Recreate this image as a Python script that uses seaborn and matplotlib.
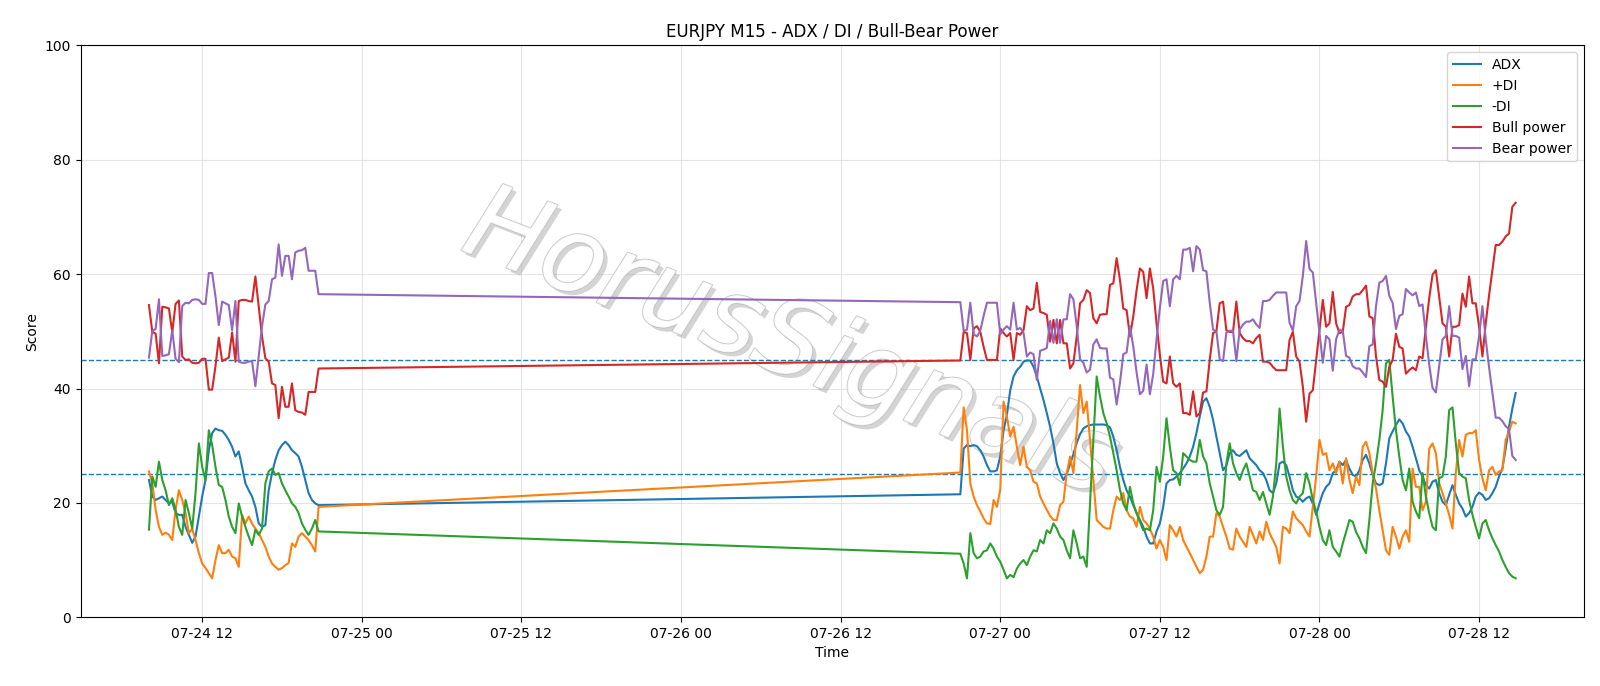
import matplotlib
matplotlib.use("Agg")
import matplotlib.pyplot as plt
import matplotlib.dates as mdates
import matplotlib.patheffects as pe
import numpy as np
import pandas as pd
import seaborn as sns

# ---- timestamps (M15 bars, two trading sessions around the weekend) ----
seg1_start = "2020-07-24 08:00"
seg1_n = 52
seg2_start = "2020-07-26 21:00"
seg2_n = 168

# ---- series values ----
adx_1 = [24.0, 21.1, 20.5, 20.8, 21.1, 20.5, 19.9, 20.2, 18.2, 17.9, 17.9, 15.8, 14.4, 13.0, 14.1, 17.6,
         21.1, 24.0, 29.2, 32.2, 33.0, 32.7, 32.6, 31.9, 31.0, 29.8, 28.1, 29.0, 26.3, 23.4, 22.2, 21.1,
         19.3, 16.4, 15.8, 16.1, 22.2, 25.2, 27.5, 29.2, 30.1, 30.7, 30.1, 29.2, 28.7, 28.1, 26.3, 24.0,
         21.7, 20.5, 19.9, 19.6]
adx_2 = [21.5, 29.5, 30.1, 29.9, 30.1, 29.9, 29.2, 28.1, 26.6, 25.5, 25.5, 25.7, 28.1, 32.7, 35.4, 39.7,
         42.1, 43.2, 43.8, 44.7, 44.9, 44.9, 43.8, 42.1, 40.0, 38.0, 35.7, 33.3, 30.4, 26.9, 25.2, 24.0,
         25.0, 26.8, 28.5, 30.5, 32.0,
         33.0, 33.4, 33.6, 33.7, 33.7, 33.7, 33.7, 33.6, 33.2, 31.6, 29.2, 26.3, 24.0, 22.2, 21.1, 19.6,
         18.2, 17.0, 15.8, 14.1, 12.9, 12.9, 15.0, 16.4, 19.3, 23.4, 24.0, 24.1, 24.6, 25.2, 26.0, 26.9,
         28.1, 29.8, 32.2, 35.1, 37.7, 38.3, 36.8, 34.5, 31.6, 28.7, 25.7, 26.5, 28.7,
         29.2, 28.4, 28.2, 28.7, 29.2, 27.8, 27.2, 26.6, 25.7, 25.2, 24.0, 22.2, 21.7, 23.4, 26.9, 27.2,
         26.6, 24.6, 22.2, 21.1, 20.8, 20.2, 20.8, 21.1, 19.9, 17.9, 19.9, 21.7, 22.8, 23.4, 25.2, 25.7,
         27.2, 26.6, 27.5, 26.0, 24.9, 24.6, 25.7, 27.5, 28.4, 26.9, 24.9, 23.4, 23.1,
         23.4, 26.9, 31.3, 32.5, 33.6, 34.6, 33.9, 32.5, 31.6, 29.8, 27.8, 25.7, 24.6, 23.1, 22.5, 23.7,
         24.0, 21.7, 20.2, 19.6, 21.4, 23.1, 21.4, 19.9, 19.0, 17.6, 18.2, 19.3, 21.1, 21.8, 21.4, 20.5,
         20.8, 21.7, 22.8, 24.6, 26.0, 29.5, 33.3, 36.5, 39.2]

plus_di_1 = [25.5, 23.4, 18.8, 15.8, 14.4, 14.8, 14.4, 13.5, 18.8, 22.2, 20.5, 18.2, 14.7, 15.5, 13.5, 11.2,
             9.4, 8.6, 7.7, 6.8, 10.0, 12.6, 11.2, 11.2, 11.8, 10.6, 10.3, 8.8, 17.9, 16.4, 17.6, 16.4,
             15.5, 14.7, 13.5, 12.3, 10.6, 9.4, 8.8, 8.3, 8.6, 9.1, 9.5, 12.9, 12.3, 14.1, 14.7, 14.1,
             13.5, 12.6, 11.5, 19.3]
plus_di_2 = [25.3, 36.7, 32.7, 23.4, 21.1, 19.6, 18.5, 17.3, 16.4, 16.3, 20.5, 19.3, 22.3, 37.7, 35.1, 31.6,
             33.3, 29.8, 26.6, 29.8, 26.3, 25.7, 23.7, 23.4, 21.1, 19.9, 18.8, 17.7, 17.0, 17.0, 19.6, 20.2,
             25.2, 28.1, 25.2, 32.7, 40.6,
             35.7, 37.7, 31.0, 24.0, 17.0, 16.4, 15.8, 15.5, 15.5, 18.7, 21.1, 20.5, 21.7, 18.7, 17.6, 17.3,
             15.8, 19.3, 17.0, 16.4, 15.5, 14.1, 12.0, 13.5, 12.3, 10.0, 16.1, 15.2, 14.1, 15.8, 13.5, 12.3,
             11.2, 10.0, 8.8, 7.7, 8.3, 10.6, 14.1, 14.1, 18.2, 17.6, 15.8, 14.1, 12.0,
             11.8, 15.5, 14.1, 13.2, 12.3, 15.8, 14.4, 12.9, 15.0, 13.5, 16.7, 14.7, 13.5, 12.3, 9.4, 15.8,
             15.5, 14.7, 18.5, 17.3, 16.7, 16.1, 15.0, 14.1, 19.3, 24.6, 31.0, 28.4, 28.7, 25.7, 26.9, 25.2,
             27.2, 23.4, 27.8, 24.0, 21.7, 24.6, 23.1, 29.8, 30.7, 28.7, 25.2, 22.5, 18.7,
             15.2, 11.7, 10.9, 15.8, 14.1, 12.0, 14.1, 15.2, 13.2, 26.0, 22.8, 22.8, 18.7, 20.2, 29.5, 30.4,
             28.7, 23.4, 21.7, 19.9, 17.9, 15.5, 25.2, 31.0, 28.1, 31.9, 32.2, 32.2, 32.7, 27.5, 24.3, 22.2,
             25.7, 26.3, 24.9, 25.5, 25.7, 31.0, 32.5, 34.2, 33.9]

minus_di_1 = [15.3, 24.6, 22.8, 27.2, 24.0, 22.2, 19.6, 20.8, 18.8, 15.8, 14.4, 20.5, 18.2, 15.5, 21.7, 30.4,
              26.3, 24.0, 32.7, 30.1, 26.3, 23.1, 22.8, 20.5, 17.6, 15.8, 14.7, 19.9, 17.6, 15.8, 14.1, 12.6,
              15.3, 14.4, 15.5, 23.4, 25.5, 26.0, 24.9, 25.2, 23.4, 22.2, 21.1, 19.9, 19.3, 18.2, 16.4, 15.3,
              14.4, 15.5, 17.0, 15.0]
minus_di_2 = [11.1, 9.4, 6.8, 14.7, 11.2, 10.3, 10.6, 11.5, 11.7, 12.9, 12.0, 10.6, 9.7, 8.3, 6.8, 7.4,
              7.0, 8.5, 9.4, 10.0, 9.1, 10.6, 11.7, 11.5, 13.5, 12.9, 15.2, 14.7, 16.4, 15.5, 14.1, 13.5,
              11.7, 10.3, 15.2, 12.9, 10.3,
              10.6, 8.8, 20.0, 31.0, 42.1, 38.6, 35.7, 33.9, 31.6, 28.7, 25.7, 22.3, 19.9, 18.7, 22.8, 19.9,
              18.2, 16.7, 15.2, 15.5, 15.2, 18.7, 26.3, 23.7, 28.1, 34.8, 29.8, 25.7, 25.2, 23.1, 28.7, 28.1,
              27.5, 27.2, 27.2, 31.0, 28.1, 26.9, 23.4, 21.1, 18.7, 17.9, 19.3, 26.9, 30.4,
              26.9, 25.2, 24.0, 25.7, 26.9, 24.6, 22.2, 21.9, 20.5, 21.9, 19.9, 17.9, 21.1, 26.9, 36.5, 29.8,
              24.6, 22.2, 20.5, 19.9, 21.1, 21.7, 25.2, 23.4, 20.5, 18.5, 15.8, 13.5, 12.6, 15.2, 12.3, 11.5,
              10.6, 12.9, 14.9, 17.0, 16.7, 14.9, 13.8, 12.3, 11.2, 17.0, 23.4, 26.9, 31.0,
              36.2, 44.4, 45.0, 38.6, 32.7, 28.1, 24.0, 22.2, 26.0, 20.2, 18.5, 17.3, 25.2, 21.1, 18.2, 15.8,
              15.2, 24.3, 24.6, 28.1, 36.2, 36.7, 30.4, 25.2, 24.6, 24.3, 20.5, 17.9, 15.8, 13.8, 16.4, 17.0,
              15.2, 13.8, 12.6, 11.5, 10.0, 8.8, 7.7, 7.1, 6.8]

bull_1 = [54.6, 49.9, 49.6, 44.4, 54.3, 54.2, 54.0, 49.8, 54.8, 55.4, 45.6, 45.0, 45.1, 44.5, 44.4, 44.5,
          45.2, 45.2, 39.8, 39.8, 43.9, 48.9, 44.8, 45.1, 45.4, 49.8, 44.7, 55.3, 55.5, 55.5, 55.3, 55.2,
          59.6, 54.3, 49.1, 45.3, 44.7, 40.9, 40.6, 34.8, 40.3, 36.8, 36.8, 40.9, 36.2, 35.9, 35.8, 35.4,
          39.4, 39.4, 39.4, 43.5]
bull_2 = [44.9, 49.9, 49.7, 45.0, 50.5, 50.9, 49.9, 47.3, 45.0, 45.0, 45.0, 45.0, 50.5, 49.7, 49.1, 49.7,
          45.0, 49.7, 49.4, 50.2, 54.4, 53.7, 54.0, 58.5, 53.4, 53.2, 52.9, 48.2, 52.0, 47.9, 52.0, 47.9,
          47.9, 43.5, 44.4, 49.1, 54.9,
          55.5, 57.2, 56.7, 52.3, 51.4, 52.9, 53.0, 53.0, 58.1, 58.4, 62.8, 59.0, 54.0, 53.7, 49.1, 52.6,
          57.2, 61.0, 60.4, 55.8, 61.0, 57.5, 51.4, 45.9, 41.2, 40.9, 45.6, 40.9, 40.3, 40.9, 35.7, 35.7,
          35.4, 39.5, 35.1, 35.7, 39.3, 39.5, 45.0, 49.7, 50.0, 54.9, 55.2, 50.2, 49.9,
          49.9, 55.2, 49.7, 48.8, 48.3, 48.3, 47.9, 48.8, 49.4, 44.7, 44.7, 44.5, 43.8, 43.2, 43.2, 43.2,
          43.2, 48.5, 49.9, 45.6, 44.7, 40.3, 34.2, 39.1, 39.7, 45.0, 50.2, 55.5, 50.8, 51.4, 56.9, 51.4,
          49.7, 49.9, 54.3, 54.6, 56.1, 56.5, 56.5, 57.2, 58.0, 52.6, 52.3, 45.6, 41.5,
          41.2, 40.3, 43.8, 45.0, 49.6, 47.3, 47.0, 42.6, 43.2, 43.7, 43.2, 45.6, 45.3, 50.8, 55.8, 59.9,
          60.7, 56.1, 51.4, 50.8, 45.6, 50.8, 50.8, 51.1, 56.6, 54.3, 59.6, 54.9, 54.9, 50.8, 45.6, 51.4,
          56.3, 60.7, 65.1, 65.1, 65.7, 66.6, 67.1, 71.8, 72.5]

bear_1 = [45.4, 50.1, 50.4, 55.6, 45.7, 45.8, 46.0, 50.2, 45.2, 44.6, 54.4, 55.0, 54.9, 55.5, 55.6, 55.5,
          54.8, 54.8, 60.2, 60.2, 56.1, 51.1, 55.2, 54.9, 54.6, 50.2, 55.3, 44.7, 44.5, 44.5, 44.7, 44.8,
          40.4, 45.7, 50.9, 54.7, 55.3, 59.1, 59.4, 65.2, 59.7, 63.2, 63.2, 59.1, 63.8, 64.1, 64.2, 64.6,
          60.6, 60.6, 60.6, 56.5]
bear_2 = [55.1, 50.1, 50.3, 55.0, 49.5, 49.1, 50.1, 52.7, 55.0, 55.0, 55.0, 55.0, 49.5, 50.3, 50.9, 50.3,
          55.0, 50.3, 50.6, 49.8, 45.6, 46.3, 46.0, 41.5, 46.6, 46.8, 47.1, 51.8, 48.0, 52.1, 48.0, 52.1,
          52.1, 56.5, 55.6, 50.9, 45.1,
          44.5, 42.8, 43.3, 47.7, 48.6, 47.1, 47.0, 47.0, 41.9, 41.6, 37.2, 41.0, 46.0, 46.3, 50.9, 47.4,
          42.8, 39.0, 39.6, 44.2, 39.0, 42.5, 48.6, 54.1, 58.8, 59.1, 54.4, 59.1, 59.7, 59.1, 64.3, 64.3,
          64.6, 60.5, 64.9, 64.3, 60.7, 60.5, 55.0, 50.3, 50.0, 45.1, 44.8, 49.8, 50.1,
          50.1, 44.8, 50.3, 51.2, 51.7, 51.7, 52.1, 51.2, 50.6, 55.3, 55.3, 55.5, 56.2, 56.8, 56.8, 56.8,
          56.8, 51.5, 50.1, 54.4, 55.3, 59.7, 65.8, 60.9, 60.3, 55.0, 49.8, 44.5, 49.2, 48.6, 43.1, 48.6,
          50.3, 50.1, 45.7, 45.4, 43.9, 43.5, 43.5, 42.8, 42.0, 47.4, 47.7, 54.4, 58.5,
          58.8, 59.7, 56.2, 55.0, 50.4, 52.7, 53.0, 57.4, 56.8, 56.3, 56.8, 54.4, 54.7, 49.2, 44.2, 40.1,
          39.3, 43.9, 48.6, 49.2, 54.4, 49.2, 49.2, 48.9, 43.4, 45.7, 40.4, 45.1, 45.1, 49.2, 54.4, 48.6,
          43.7, 39.3, 34.9, 34.9, 34.3, 33.4, 32.9, 28.2, 27.5]

series_names = ["ADX", "+DI", "-DI", "Bull power", "Bear power"]
thresholds = [25, 45]

# ---- assemble ----
times = pd.DatetimeIndex(list(pd.date_range(seg1_start, periods=seg1_n, freq="15min")) +
                         list(pd.date_range(seg2_start, periods=seg2_n, freq="15min")))
values = {
    "ADX": adx_1 + adx_2,
    "+DI": plus_di_1 + plus_di_2,
    "-DI": minus_di_1 + minus_di_2,
    "Bull power": bull_1 + bull_2,
    "Bear power": bear_1 + bear_2,
}
frames = []
for name in series_names:
    frames.append(pd.DataFrame({"time": times, "score": values[name], "series": name}))
df = pd.concat(frames, ignore_index=True)

palette = dict(zip(series_names, ["#1f77b4", "#ff7f0e", "#2ca02c", "#d62728", "#9467bd"]))

fig = plt.figure(figsize=(16, 6.86), dpi=100)
ax = fig.add_axes([0.0504, 0.1003, 0.9396, 0.8334])

sns.lineplot(data=df, x="time", y="score", hue="series", hue_order=series_names,
             palette=palette, estimator=None, sort=False, linewidth=1.5, ax=ax, zorder=3)

for t in thresholds:
    ax.axhline(t, color="#1f77b4", linestyle="--", linewidth=1.0, zorder=2)

ax.set_ylim(0, 100)
ax.set_title("EURJPY M15 - ADX / DI / Bull-Bear Power", fontsize=12)
ax.set_xlabel("Time")
ax.set_ylabel("Score")
ax.grid(True, color="#d9d9d9", linewidth=0.8, alpha=0.7)
ax.set_axisbelow(True)
ax.xaxis.set_major_locator(mdates.HourLocator(byhour=[0, 12]))
ax.xaxis.set_major_formatter(mdates.DateFormatter("%m-%d %H"))

leg = ax.legend(loc="upper right", frameon=True)

# watermark
ax.text(0.472, 0.475, "HorusSignals", transform=ax.transAxes, fontsize=76,
        fontstyle="italic", rotation=-21, ha="center", va="center",
        color="white", alpha=0.85, zorder=1,
        path_effects=[pe.withSimplePatchShadow(offset=(3, -3), shadow_rgbFace="#aaaaaa", alpha=0.5),
                      pe.Stroke(linewidth=1.2, foreground="#bdbdbd"), pe.Normal()])

fig.savefig("out.png", dpi=100)
